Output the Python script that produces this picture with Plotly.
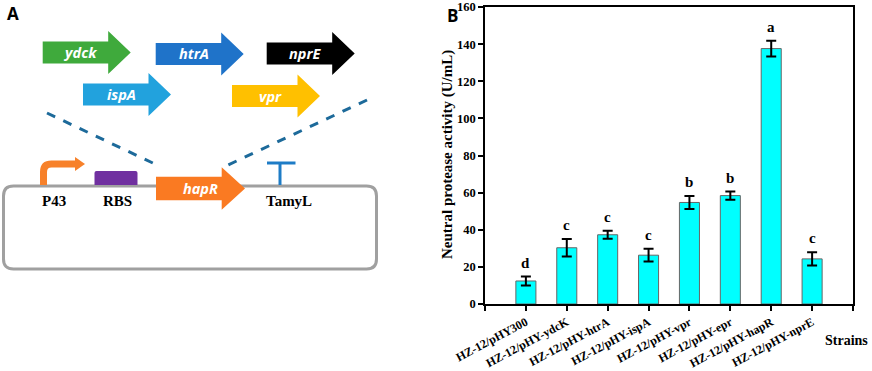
import plotly.graph_objects as go

# ---------------- data (panel B) ----------------
strains = ["HZ-12/pHY300", "HZ-12/pHY-ydcK", "HZ-12/pHY-htrA", "HZ-12/pHY-ispA",
           "HZ-12/pHY-vpr", "HZ-12/pHY-epr", "HZ-12/pHY-hapR", "HZ-12/pHY-nprE"]
activity = [12.4, 30.3, 37.3, 26.3, 54.7, 58.4, 137.6, 24.3]
errors = [2.4, 4.7, 2.2, 3.4, 3.5, 2.2, 4.2, 3.6]
sig_letters = ["d", "c", "c", "c", "b", "b", "a", "c"]
y_ticks = [0, 20, 40, 60, 80, 100, 120, 140, 160]

# ---------------- diagram elements (panel A) ----------------
gene_names = ["ydck", "htrA", "nprE", "ispA", "vpr"]
gene_colors = ["#3FAA3C", "#1F73C9", "#000000", "#22A2DD", "#FFC000"]
element_labels = ["P43", "RBS", "TamyL"]

W, H = 872, 371
SERIF = "Liberation Serif, Times New Roman, serif"
SANS = "Open Sans, Arial, sans-serif"


def px(x):
    return x / W


def py(y):
    return 1 - y / H


def pth(points_cmds):
    """Build an SVG path in paper coordinates from pixel tuples."""
    out = []
    for item in points_cmds:
        cmd, *coords = item
        pts = []
        for k in range(0, len(coords), 2):
            pts.append(f"{px(coords[k]):.5f},{py(coords[k+1]):.5f}")
        out.append(cmd + " " + " ".join(pts))
    return " ".join(out)


def note(x, y, text, family, size, color="black", angle=0):
    return dict(x=px(x), y=py(y), xref="paper", yref="paper", text=text, showarrow=False,
                xanchor="center", yanchor="middle", textangle=angle,
                font=dict(family=family, size=size, color=color))


fig = go.Figure()

x_idx = list(range(len(strains)))
fig.add_trace(go.Bar(
    x=x_idx, y=activity, width=0.49,
    marker=dict(color="#00FFFF", line=dict(color="#666666", width=1)),
    error_y=dict(type="data", array=errors, visible=True, color="black",
                 thickness=2, width=5),
    showlegend=False, hoverinfo="skip",
))

annotations = []
for i, (m, e, s) in enumerate(zip(activity, errors, sig_letters)):
    annotations.append(dict(x=i, y=m + e, xref="x", yref="y", text=f"<b>{s}</b>", showarrow=False,
                            xanchor="center", yanchor="bottom", yshift=4,
                            font=dict(family=SERIF, size=15, color="black")))

annotations.append(note(846, 340, "<b>Strains</b>", SERIF, 14))
annotations.append(note(447, 154, "<b>Neutral protease activity (U/mL)</b>", SERIF, 15, angle=-90))
annotations.append(note(453, 15, "<b>B</b>", SANS, 17))
annotations.append(note(13, 13, "<b>A</b>", SANS, 17))

shapes = []


def gene_arrow(x0, yc, color, length=88, bh=11, hh=21.5, hl=22.5):
    xb = x0 + length - hl
    xt = x0 + length
    path = pth([("M", x0, yc - bh), ("L", xb, yc - bh), ("L", xb, yc - hh), ("L", xt, yc),
                ("L", xb, yc + hh), ("L", xb, yc + bh), ("L", x0, yc + bh)]) + " Z"
    return dict(type="path", path=path, xref="paper", yref="paper", fillcolor=color,
                line=dict(width=0), layer="below")


def pline(x0, y0, x1, y1, **line):
    return dict(type="line", x0=px(x0), y0=py(y0), x1=px(x1), y1=py(y1),
                xref="paper", yref="paper", line=line, layer="below")


# plasmid rounded rectangle
r = 10
x0, x1, y0, y1 = 3.5, 376.5, 186, 269
rr = pth([("M", x0 + r, y0), ("L", x1 - r, y0), ("Q", x1, y0, x1, y0 + r), ("L", x1, y1 - r),
          ("Q", x1, y1, x1 - r, y1), ("L", x0 + r, y1), ("Q", x0, y1, x0, y1 - r),
          ("L", x0, y0 + r), ("Q", x0, y0, x0 + r, y0)]) + " Z"
shapes.append(dict(type="path", path=rr, xref="paper", yref="paper", fillcolor="white",
                   line=dict(color="#A0A0A0", width=3), layer="below"))

gene_pos = [(42.7, 52.5), (155.7, 54.0), (266.7, 53.5), (83.0, 94.5), (232.0, 96.0)]
for name, col, (gx, gy) in zip(gene_names, gene_colors, gene_pos):
    shapes.append(gene_arrow(gx, gy, col))
    annotations.append(note(gx + 38, gy, f"<b><i>{name}</i></b>", SANS, 14.5, color="white"))

# dashed connector lines
shapes.append(pline(47, 113, 157, 165, color="#1D6A9A", width=3, dash="dash"))
shapes.append(pline(367, 100, 228, 165, color="#1D6A9A", width=3, dash="dash"))

# promoter P43 bent arrow
shapes.append(dict(type="path",
                   path=pth([("M", 43.5, 185), ("L", 43.5, 172), ("Q", 43.5, 164, 51.5, 164), ("L", 77, 164)]),
                   xref="paper", yref="paper", line=dict(color="#F7812A", width=7), layer="below"))
shapes.append(dict(type="path", path=pth([("M", 75, 157), ("L", 85, 164), ("L", 75, 171)]) + " Z",
                   xref="paper", yref="paper", fillcolor="#F7812A", line=dict(width=0), layer="below"))
# RBS
shapes.append(dict(type="path",
                   path=pth([("M", 94.5, 185), ("L", 94.5, 173), ("Q", 94.5, 171, 96.5, 171),
                             ("L", 135.5, 171), ("Q", 137.5, 171, 137.5, 173), ("L", 137.5, 185)]) + " Z",
                   xref="paper", yref="paper", fillcolor="#7030A0", line=dict(width=0), layer="below"))
# hapR gene
shapes.append(gene_arrow(156, 188.5, "#FA7A22", length=89, bh=11.7, hh=21.3, hl=23.3))
annotations.append(note(200, 188.5, "<b><i>hapR</i></b>", SANS, 14.5, color="white"))
# terminator
shapes.append(pline(280, 163, 280, 185, color="#1E7CC6", width=3))
shapes.append(pline(267, 163, 295.5, 163, color="#1E7CC6", width=3))

for lab, lx in zip(element_labels, [53.5, 117, 288.5]):
    annotations.append(note(lx, 201, f"<b>{lab}</b>", SERIF, 15))

fig.update_layout(
    width=W, height=H,
    margin=dict(l=0, r=0, t=0, b=0),
    paper_bgcolor="white", plot_bgcolor="rgba(0,0,0,0)",
    xaxis=dict(domain=[px(485), px(853)], range=[-1, 8],
               tickmode="array", tickvals=[-1] + x_idx + [8],
               ticktext=[""] + [f"<b>{s}</b>" for s in strains] + [""],
               tickangle=-28, ticks="outside", ticklen=5, tickwidth=1.5, tickcolor="black",
               showline=True, linecolor="black", linewidth=1.5, mirror=True,
               showgrid=False, zeroline=False, automargin=False,
               tickfont=dict(family=SERIF, size=12, color="black")),
    yaxis=dict(domain=[py(304), py(7)], range=[0, 160],
               tickmode="array", tickvals=y_ticks, ticktext=[f"<b>{t}</b>" for t in y_ticks],
               ticks="outside", ticklen=5, tickwidth=1.5, tickcolor="black",
               showline=True, linecolor="black", linewidth=1.5, mirror=True,
               showgrid=False, zeroline=False, automargin=False,
               tickfont=dict(family=SERIF, size=12.5, color="black")),
    shapes=shapes,
    annotations=annotations,
)

fig.write_html("out.html", config={"displayModeBar": False},
               post_script="document.body.style.margin='0';document.body.style.padding='0';")
